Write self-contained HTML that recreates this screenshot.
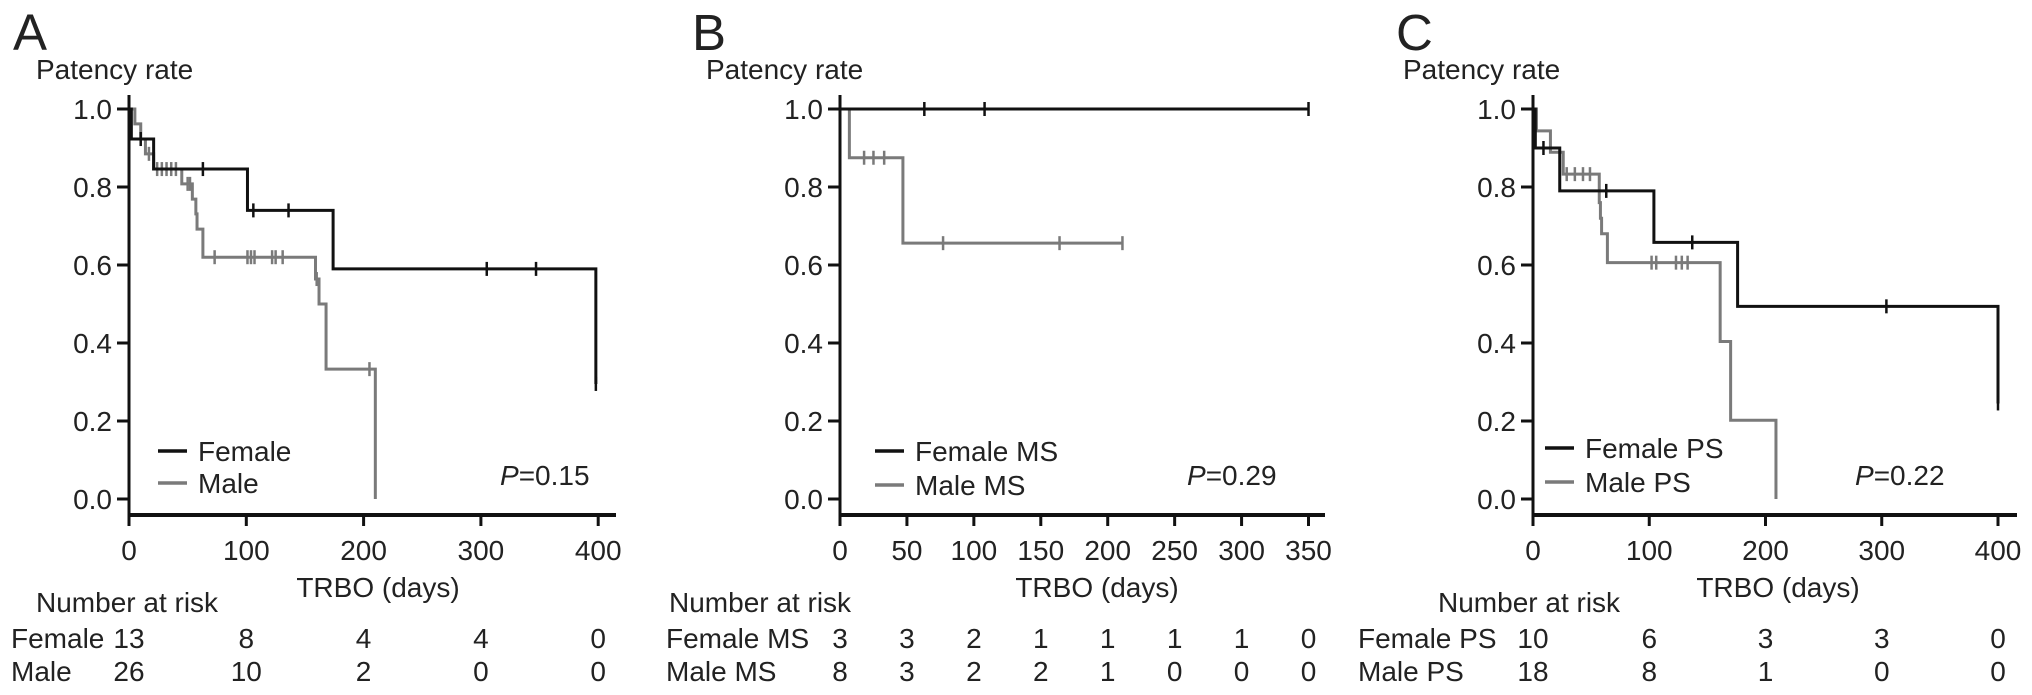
<!DOCTYPE html>
<html><head><meta charset="utf-8"><style>
html,body{margin:0;padding:0;background:#fff;}
svg{display:block;font-family:"Liberation Sans",Arial,sans-serif;}
</style></head><body>
<svg id="fig" width="2032" height="695" viewBox="0 0 2032 695" xmlns="http://www.w3.org/2000/svg"></svg>
<script>
// ---- Panel A data ----
const aFemaleT=[0,2,21,101,174,398];
const aFemaleS=[1,0.923,0.846,0.74,0.59,0.295];
const aFemaleCensT=[10,63,106,136,305,347,398];
const aMaleT=[0,5,10,14,21,45,54,57,58,63,159,162,168,210];
const aMaleS=[1,0.962,0.923,0.885,0.846,0.808,0.769,0.731,0.692,0.62,0.564,0.5,0.333,0];
const aMaleCensT=[17,24,28,32,36,40,50,52,73,101,104,107,122,125,131,160,205];
const aXTicks=[0,100,200,300,400];
const aRiskFemale=[13,8,4,4,0];
const aRiskMale=[26,10,2,0,0];
// ---- Panel B data ----
const bFemaleT=[0,350];
const bFemaleS=[1,1];
const bFemaleCensT=[63,108,350];
const bMaleT=[0,7,47,211];
const bMaleS=[1,0.875,0.656,0.656];
const bMaleCensT=[18,25,33,77,164,211];
const bXTicks=[0,50,100,150,200,250,300,350];
const bRiskFemale=[3,3,2,1,1,1,1,0];
const bRiskMale=[8,3,2,2,1,0,0,0];
// ---- Panel C data ----
const cFemaleT=[0,2,23,104,176,400];
const cFemaleS=[1,0.9,0.79,0.658,0.494,0.245];
const cFemaleCensT=[9,63,137,304,400];
const cMaleT=[0,3,15,26,57,58,59,64,161,170,209];
const cMaleS=[1,0.944,0.889,0.833,0.76,0.72,0.68,0.606,0.404,0.202,0];
const cMaleCensT=[29,36,43,49,102,106,123,128,133];
const cXTicks=[0,100,200,300,400];
const cRiskFemale=[10,6,3,3,0];
const cRiskMale=[18,8,1,0,0];
const yTicks=[0,0.2,0.4,0.6,0.8,1.0];

const FS=28;
const NS="http://www.w3.org/2000/svg";
const svg=document.getElementById('fig');
function mk(tag,attrs,parent){const e=document.createElementNS(NS,tag);for(const k in attrs)e.setAttribute(k,attrs[k]);(parent||svg).appendChild(e);return e;}
function txt(s,x,y,size,anchor,parent,extra){const t=mk('text',Object.assign({x:x,y:y,'font-size':size,'text-anchor':anchor||'start',fill:'#222'},extra||{}),parent);t.textContent=s;return t;}

function stepAt(T,S,t){let s=S[0];for(let i=0;i<T.length;i++){if(T[i]<=t)s=S[i];}return s;}

function panel(cfg){
  const g=mk('g',{});
  
  
  const x0=cfg.ax, xs=cfg.pxPerDay;
  const X=t=>x0+t*xs;
  const Y=s=>499-s*390;
  const lt=txt(cfg.letter,cfg.letterX,50,51,'start',g);
  
  
  const yt=txt('Patency rate',cfg.ytX,79,FS,'start',g);
  
  
  const ya=mk('line',{x1:x0,y1:95,x2:x0,y2:516,stroke:'#111','stroke-width':3},g);
  
  
  yTicks.forEach(v=>{
    mk('line',{x1:x0-12,y1:Y(v),x2:x0,y2:Y(v),stroke:'#111','stroke-width':3},g);
    const l=txt(v.toFixed(1),x0-17,Y(v)+10,FS,'end',g);
    
    
  });
  const xa=mk('line',{x1:x0-1.5,y1:515,x2:cfg.axEnd,y2:515,stroke:'#111','stroke-width':4},g);
  
  
  cfg.xTicks.forEach(v=>{
    mk('line',{x1:X(v),y1:515,x2:X(v),y2:526,stroke:'#111','stroke-width':3},g);
    const l=txt(String(v),X(v),560,FS,'middle',g);
    
    
  });
  const xt=txt('TRBO (days)',cfg.xtX,597,FS,'middle',g);
  
  
  function curve(T,S,C,color,name){
    let d='M'+X(T[0])+','+Y(S[0]);
    for(let i=1;i<T.length;i++){d+=' H'+X(T[i])+' V'+Y(S[i]);}
    const p=mk('path',{d:d,fill:'none',stroke:color,'stroke-width':3},g);
    
    
    C.forEach(t=>{
      const s=stepAt(T,S,t);
      const c=mk('line',{x1:X(t),y1:Y(s)-7,x2:X(t),y2:Y(s)+7,stroke:color,'stroke-width':2.5},g);
      
      
    });
  }
  curve(cfg.mT,cfg.mS,cfg.mC,'#7a7a7a',cfg.mName+'-curve');
  curve(cfg.fT,cfg.fS,cfg.fC,'#111',cfg.fName+'-curve');
  const lg=mk('g',{},g);
  
  
  mk('line',{x1:cfg.legX,y1:cfg.legY1,x2:cfg.legX+29,y2:cfg.legY1,stroke:'#111','stroke-width':3.5},lg);
  txt(cfg.fLabel,cfg.legX+40,cfg.legY1+10,FS,'start',lg);
  mk('line',{x1:cfg.legX,y1:cfg.legY2,x2:cfg.legX+29,y2:cfg.legY2,stroke:'#7a7a7a','stroke-width':3.5},lg);
  txt(cfg.mLabel,cfg.legX+40,cfg.legY2+10,FS,'start',lg);
  const pv=mk('text',{x:cfg.pX,y:485,'font-size':FS,fill:'#222'},g);
  
  
  const pi=mk('tspan',{'font-style':'italic'},pv);pi.textContent='P';
  const pr=mk('tspan',{},pv);pr.textContent='='+cfg.p;
  const rt=mk('g',{},g);
  
  
  txt('Number at risk',cfg.narX,612,FS,'start',rt);
  txt(cfg.fLabel,cfg.rowX,648,FS,'start',rt);
  txt(cfg.mLabel,cfg.rowX,681,FS,'start',rt);
  cfg.xTicks.forEach((v,i)=>{
    txt(String(cfg.rF[i]),X(v),648,FS,'middle',rt);
    txt(String(cfg.rM[i]),X(v),681,FS,'middle',rt);
  });
}

panel({letter:'A',letterX:13,ytX:36,ax:129,pxPerDay:1.173,axEnd:616,xTicks:aXTicks,xtX:378,
  fT:aFemaleT,fS:aFemaleS,fC:aFemaleCensT,mT:aMaleT,mS:aMaleS,mC:aMaleCensT,fName:'female',mName:'male',
  fLabel:'Female',mLabel:'Male',legX:158,legY1:451,legY2:483,pX:500,p:'0.15',
  narX:36,rowX:11,rF:aRiskFemale,rM:aRiskMale});
panel({letter:'B',letterX:692,ytX:706,ax:840,pxPerDay:1.3386,axEnd:1325,xTicks:bXTicks,xtX:1097,
  fT:bFemaleT,fS:bFemaleS,fC:bFemaleCensT,mT:bMaleT,mS:bMaleS,mC:bMaleCensT,fName:'female-ms',mName:'male-ms',
  fLabel:'Female MS',mLabel:'Male MS',legX:875,legY1:451,legY2:485,pX:1187,p:'0.29',
  narX:669,rowX:666,rF:bRiskFemale,rM:bRiskMale});
panel({letter:'C',letterX:1396,ytX:1403,ax:1533,pxPerDay:1.1625,axEnd:2017,xTicks:cXTicks,xtX:1778,
  fT:cFemaleT,fS:cFemaleS,fC:cFemaleCensT,mT:cMaleT,mS:cMaleS,mC:cMaleCensT,fName:'female-ps',mName:'male-ps',
  fLabel:'Female PS',mLabel:'Male PS',legX:1545,legY1:448,legY2:482,pX:1855,p:'0.22',
  narX:1438,rowX:1358,rF:cRiskFemale,rM:cRiskMale});
</script>
</body></html>
